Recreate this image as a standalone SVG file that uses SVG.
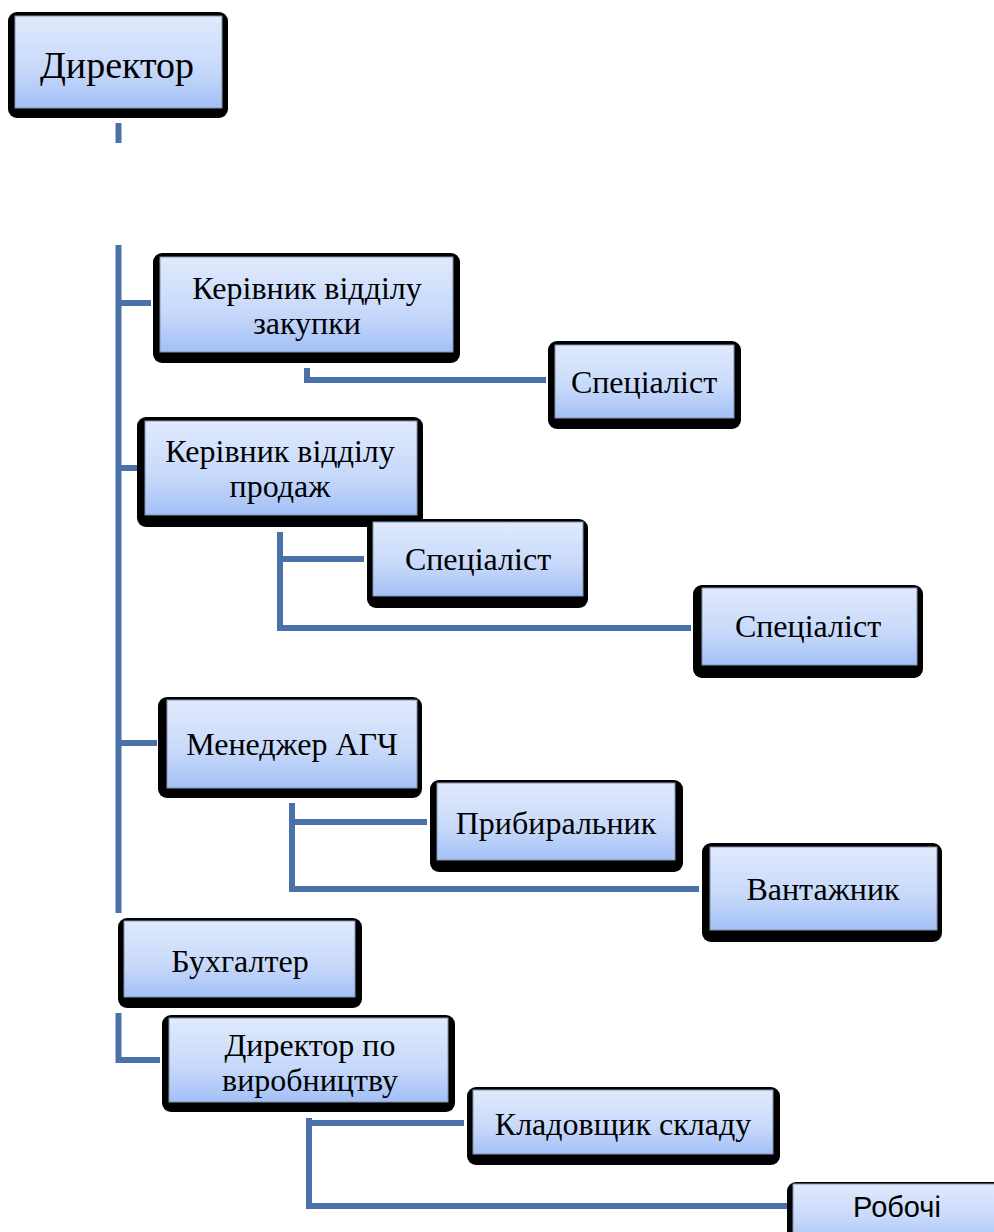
<svg xmlns="http://www.w3.org/2000/svg" width="994" height="1232" viewBox="0 0 994 1232">
<defs>
<linearGradient id="fillg" x1="0" y1="0" x2="0" y2="1">
<stop offset="0" stop-color="#e0eafc"/>
<stop offset="0.6" stop-color="#c6d8fa"/>
<stop offset="1" stop-color="#a2c0f6"/>
</linearGradient>
<style>
.outer{fill:#000000}
.inner{fill:url(#fillg);stroke:#8393ad;stroke-width:1}
.t{font-family:"Liberation Serif","Times New Roman",serif;font-size:32px;fill:#000;text-anchor:middle}
.big{font-size:38px}
.sans{font-family:"Liberation Sans",Arial,sans-serif;font-size:29px}
.conn{fill:none;stroke:#4a71a8;stroke-width:6;stroke-linejoin:miter;stroke-linecap:butt}
</style>
</defs>
<rect width="994" height="1232" fill="#ffffff"/>
<g id="connectors">
<path class="conn" d="M118.5,123 V143"/>
<path class="conn" d="M118.5,245 V913"/>
<path class="conn" d="M118.5,303 H151"/>
<path class="conn" d="M118.5,468 H138"/>
<path class="conn" d="M118.5,743 H157"/>
<path class="conn" d="M118.5,1013 V1060 H160"/>
<path class="conn" d="M307,368 V380 H546"/>
<path class="conn" d="M280,532 V628 H691"/>
<path class="conn" d="M280,559 H364"/>
<path class="conn" d="M292,803 V889 H699"/>
<path class="conn" d="M292,822 H427"/>
<path class="conn" d="M309,1118 V1206 H788"/>
<path class="conn" d="M309,1123 H464"/>
</g>
<g id="director">
<rect class="outer" x="8" y="12" width="220" height="106" rx="9"/>
<rect class="inner" x="15" y="16" width="207" height="92"/>
<text class="t big" x="117" y="78">Директор</text>
</g>
<g id="head-purchasing">
<rect class="outer" x="153" y="253" width="307" height="110" rx="9"/>
<rect class="inner" x="160" y="257" width="293" height="95"/>
<text class="t" x="307" y="299">Керівник відділу</text>
<text class="t" x="307" y="334">закупки</text>
</g>
<g id="specialist-1">
<rect class="outer" x="548" y="341" width="193" height="88" rx="9"/>
<rect class="inner" x="555" y="345" width="179" height="73"/>
<text class="t" x="644" y="393">Спеціаліст</text>
</g>
<g id="head-sales">
<rect class="outer" x="137" y="417" width="286" height="110" rx="9"/>
<rect class="inner" x="145" y="421" width="272" height="94"/>
<text class="t" x="280" y="462">Керівник відділу</text>
<text class="t" x="280" y="497">продаж</text>
</g>
<g id="specialist-2">
<rect class="outer" x="367" y="519" width="221" height="89" rx="9"/>
<rect class="inner" x="373" y="522" width="210" height="74"/>
<text class="t" x="478" y="570">Спеціаліст</text>
</g>
<g id="specialist-3">
<rect class="outer" x="693" y="585" width="230" height="93" rx="9"/>
<rect class="inner" x="702" y="588" width="215" height="77"/>
<text class="t" x="808" y="637">Спеціаліст</text>
</g>
<g id="manager">
<rect class="outer" x="158" y="697" width="264" height="101" rx="9"/>
<rect class="inner" x="167" y="700" width="250" height="88"/>
<text class="t" x="292" y="755">Менеджер АГЧ</text>
</g>
<g id="cleaner">
<rect class="outer" x="430" y="780" width="253" height="92" rx="9"/>
<rect class="inner" x="437" y="783" width="238" height="77"/>
<text class="t" x="556" y="834">Прибиральник</text>
</g>
<g id="loader">
<rect class="outer" x="702" y="843" width="240" height="99" rx="9"/>
<rect class="inner" x="710" y="847" width="227" height="83"/>
<text class="t" x="823" y="900">Вантажник</text>
</g>
<g id="accountant">
<rect class="outer" x="118" y="918" width="244" height="90" rx="9"/>
<rect class="inner" x="124" y="921" width="231" height="76"/>
<text class="t" x="240" y="972">Бухгалтер</text>
</g>
<g id="production-director">
<rect class="outer" x="162" y="1015" width="293" height="97" rx="9"/>
<rect class="inner" x="169" y="1018" width="279" height="84"/>
<text class="t" x="310" y="1056">Директор по</text>
<text class="t" x="310" y="1091">виробництву</text>
</g>
<g id="storekeeper">
<rect class="outer" x="467" y="1087" width="313" height="78" rx="9"/>
<rect class="inner" x="473" y="1090" width="300" height="64"/>
<text class="t" x="623" y="1135">Кладовщик складу</text>
</g>
<g id="workers">
<rect class="outer" x="787" y="1182" width="230" height="70" rx="9"/>
<rect class="inner" x="793" y="1184" width="215" height="60"/>
<text class="t sans" x="897" y="1217">Робочі</text>
</g>
</svg>
